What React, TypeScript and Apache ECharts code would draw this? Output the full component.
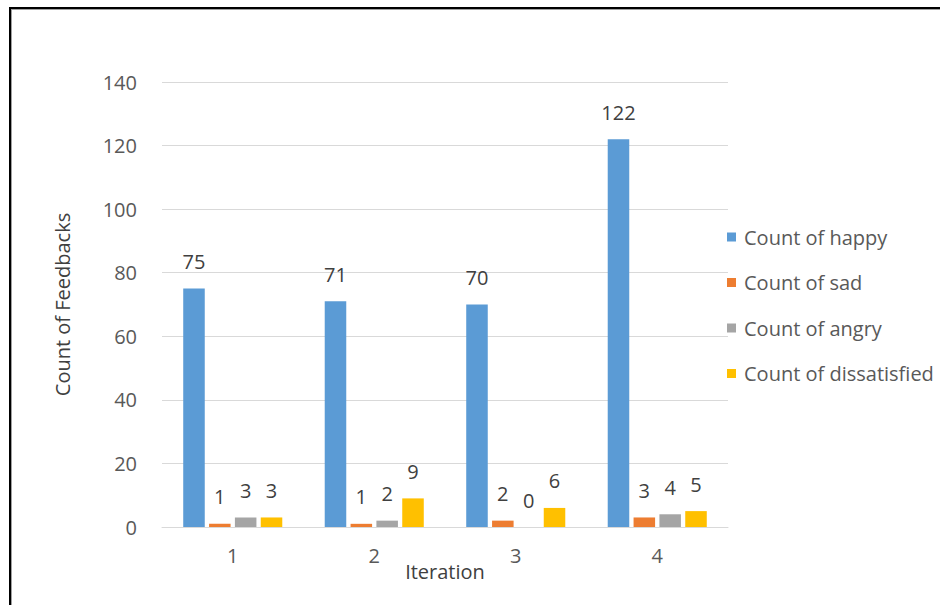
import React, { useEffect, useRef } from "react";
import * as echarts from "echarts";

// Feedback counts per iteration
const iterations = ["1", "2", "3", "4"];
const happy = [75, 71, 70, 122];
const sad = [1, 1, 2, 3];
const angry = [3, 2, 0, 4];
const dissatisfied = [3, 9, 6, 5];

const seriesNames = ["Count of happy", "Count of sad", "Count of angry", "Count of dissatisfied"];
const seriesColors = ["#5B9BD5", "#ED7D31", "#A5A5A5", "#FFC000"];

const FONT = "'Open Sans', 'Noto Sans', sans-serif";

export default function App() {
  const ref = useRef<HTMLDivElement>(null);

  useEffect(() => {
    if (!ref.current) return;
    const chart = echarts.init(ref.current, undefined, { renderer: "svg" });
    const values = [happy, sad, angry, dissatisfied];

    chart.setOption({
      animation: false,
      backgroundColor: "#ffffff",
      textStyle: { fontFamily: FONT },
      grid: { left: 162, right: 212, top: 82, bottom: 78 },
      legend: {
        orient: "vertical",
        left: 722,
        top: 222,
        itemWidth: 9,
        itemHeight: 9,
        itemGap: 25.5,
        icon: "rect",
        data: seriesNames,
        textStyle: { fontFamily: FONT, fontSize: 20, color: "#595959", padding: [0, 0, 0, 3] },
      },
      xAxis: {
        type: "category",
        data: iterations,
        name: "Iteration",
        nameLocation: "middle",
        nameGap: 34,
        nameMoveOverlap: false,
        nameTextStyle: { fontFamily: FONT, fontSize: 20, color: "#404040" },
        axisLine: { lineStyle: { color: "#D9D9D9", width: 1 } },
        axisTick: { show: false },
        axisLabel: { fontFamily: FONT, fontSize: 20, color: "#595959", margin: 18 },
      },
      yAxis: {
        type: "value",
        min: 0,
        max: 140,
        interval: 20,
        name: "Count of Feedbacks",
        nameLocation: "middle",
        nameGap: 90,
        nameMoveOverlap: false,
        nameTextStyle: { fontFamily: FONT, fontSize: 20, color: "#404040" },
        axisLine: { show: false },
        axisTick: { show: false },
        axisLabel: { fontFamily: FONT, fontSize: 20, color: "#595959", margin: 25 },
        splitLine: { lineStyle: { color: "#D9D9D9", width: 1 } },
      },
      graphic: [
        { type: "line", shape: { x1: 9, y1: 8, x2: 940, y2: 8 }, style: { stroke: "#000000", lineWidth: 2 } },
        { type: "line", shape: { x1: 11, y1: 9.5, x2: 940, y2: 9.5 }, style: { stroke: "#A0A0A0", lineWidth: 1 } },
        { type: "line", shape: { x1: 10, y1: 7, x2: 10, y2: 605 }, style: { stroke: "#000000", lineWidth: 2 } },
        { type: "line", shape: { x1: 11.5, y1: 9, x2: 11.5, y2: 605 }, style: { stroke: "#A0A0A0", lineWidth: 1 } },
      ],
      series: seriesNames.map((name, i) => ({
        name,
        type: "bar",
        data: values[i],
        barGap: "20%",
        barCategoryGap: "30%",
        itemStyle: { color: seriesColors[i] },
        label: {
          show: true,
          position: "top",
          distance: 17,
          fontFamily: FONT,
          fontSize: 20,
          color: "#404040",
        },
      })),
    });

    return () => chart.dispose();
  }, []);

  return (
    <div
      ref={ref}
      style={{ position: "fixed", left: 0, top: 0, width: 940, height: 605 }}
    />
  );
}
